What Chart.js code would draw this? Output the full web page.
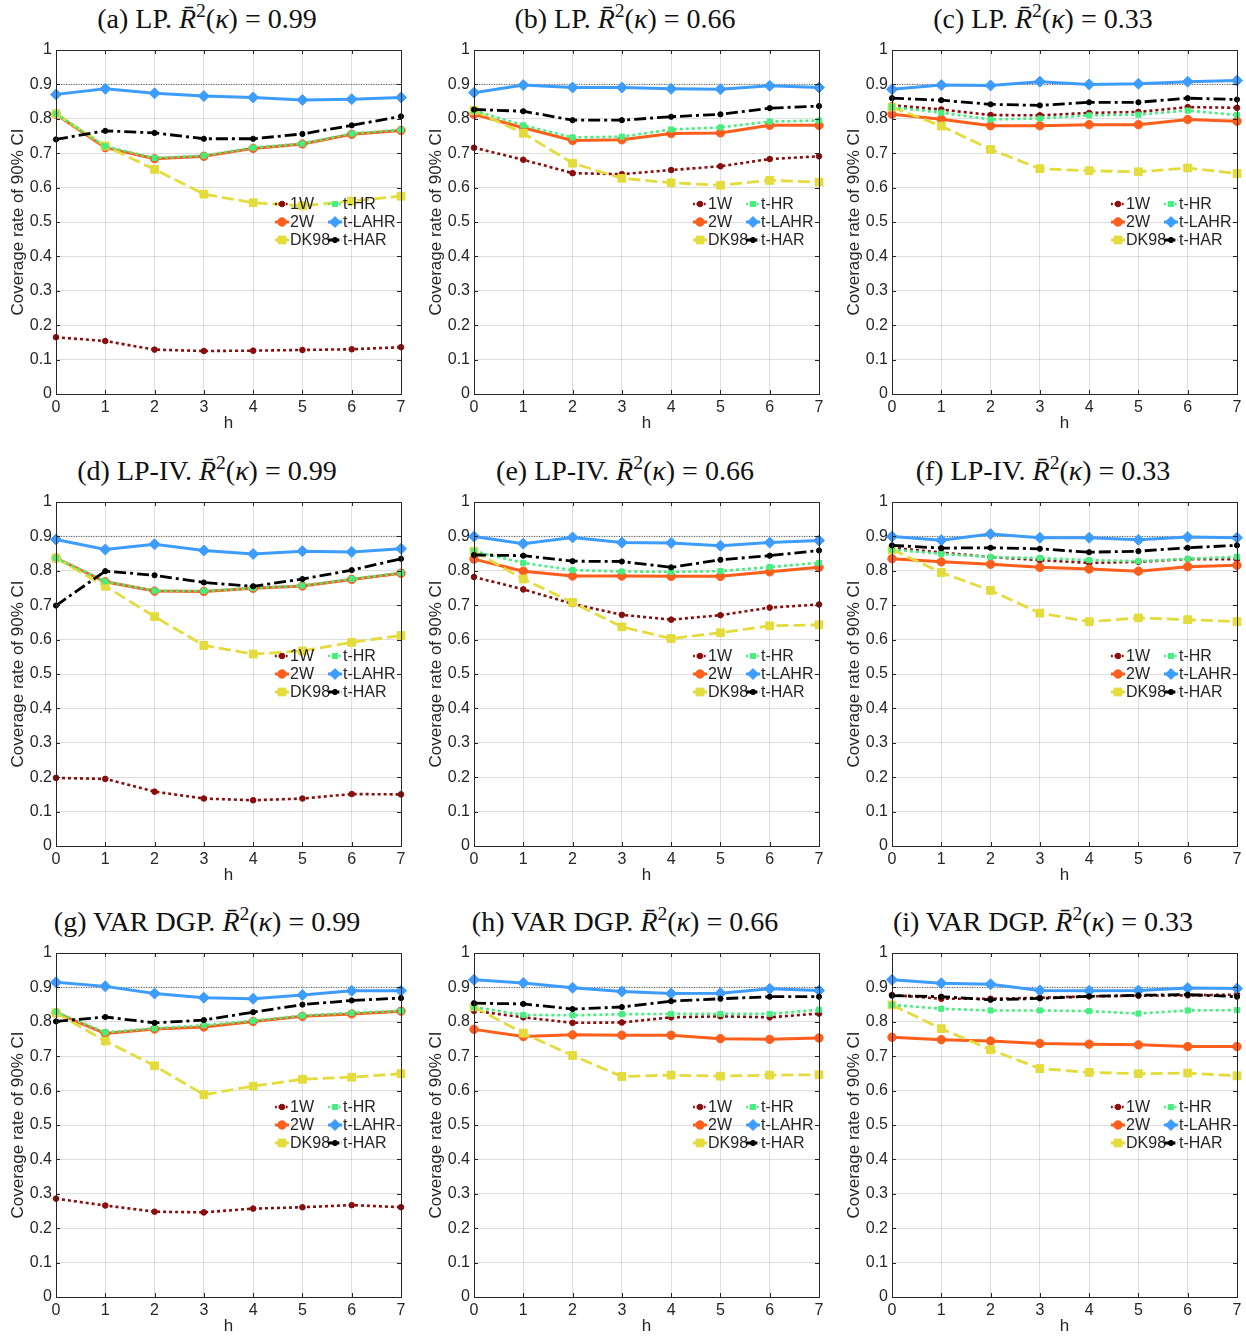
<!DOCTYPE html>
<html><head><meta charset="utf-8">
<script src="https://cdn.jsdelivr.net/npm/chart.js@4.4.1/dist/chart.umd.min.js"></script>
<style>
body{margin:0;background:#fff;}
#wrap{position:relative;width:1246px;height:1338px;overflow:hidden;background:#fff;}
.ttl{position:absolute;width:500px;text-align:center;font-family:"Liberation Serif","DejaVu Serif",serif;font-size:28px;line-height:30px;color:#111;white-space:nowrap;}
.ttl sup{font-size:0.7em;line-height:0;vertical-align:0.55em;}
canvas{position:absolute;}
</style></head><body><div id="wrap"></div>
<script>
// ---- categories and tick labels ----
const horizons = ['0','1','2','3','4','5','6','7'];
const yTickLabels = ['0','0.1','0.2','0.3','0.4','0.5','0.6','0.7','0.8','0.9','1'];
const seriesNames = ['1W','2W','DK98','t-HR','t-LAHR','t-HAR'];
const nominalLevel = [0.9,0.9,0.9,0.9,0.9,0.9,0.9,0.9];

// ---- (a) LP, 0.99 ----
const a_1W    = [0.165,0.154,0.129,0.125,0.126,0.128,0.130,0.136];
const a_2W    = [0.813,0.716,0.684,0.691,0.714,0.727,0.755,0.766];
const a_DK98  = [0.815,0.721,0.653,0.581,0.556,0.547,0.561,0.575];
const a_tHR   = [0.815,0.720,0.686,0.693,0.716,0.728,0.757,0.768];
const a_tLAHR = [0.871,0.887,0.874,0.866,0.862,0.855,0.857,0.862];
const a_tHAR  = [0.740,0.765,0.759,0.742,0.742,0.756,0.781,0.807];
// ---- (b) LP, 0.66 ----
const b_1W    = [0.716,0.681,0.642,0.639,0.651,0.662,0.683,0.691];
const b_2W    = [0.813,0.774,0.737,0.739,0.757,0.759,0.781,0.781];
const b_DK98  = [0.824,0.758,0.671,0.627,0.614,0.607,0.621,0.616];
const b_tHR   = [0.824,0.781,0.746,0.748,0.769,0.775,0.792,0.795];
const b_tLAHR = [0.876,0.898,0.891,0.891,0.887,0.886,0.896,0.891];
const b_tHAR  = [0.827,0.822,0.796,0.796,0.806,0.813,0.831,0.837];
// ---- (c) LP, 0.33 ----
const c_1W    = [0.839,0.827,0.811,0.810,0.817,0.820,0.834,0.832];
const c_2W    = [0.813,0.799,0.780,0.780,0.783,0.783,0.798,0.793];
const c_DK98  = [0.834,0.779,0.711,0.655,0.649,0.646,0.657,0.641];
const c_tHR   = [0.834,0.818,0.798,0.801,0.810,0.812,0.824,0.811];
const c_tLAHR = [0.886,0.898,0.897,0.908,0.900,0.902,0.908,0.911];
const c_tHAR  = [0.860,0.854,0.842,0.839,0.848,0.848,0.860,0.856];
// ---- (d) LP-IV, 0.99 ----
const d_1W    = [0.198,0.195,0.158,0.138,0.133,0.138,0.151,0.150];
const d_2W    = [0.837,0.768,0.741,0.740,0.749,0.756,0.775,0.793];
const d_DK98  = [0.837,0.755,0.667,0.583,0.558,0.567,0.592,0.612];
const d_tHR   = [0.837,0.769,0.742,0.741,0.750,0.757,0.776,0.794];
const d_tLAHR = [0.891,0.862,0.877,0.859,0.849,0.857,0.855,0.864];
const d_tHAR  = [0.699,0.799,0.787,0.766,0.755,0.776,0.802,0.835];
// ---- (e) LP-IV, 0.66 ----
const e_1W    = [0.782,0.746,0.704,0.672,0.658,0.671,0.693,0.702];
const e_2W    = [0.834,0.799,0.785,0.785,0.784,0.784,0.797,0.810];
const e_DK98  = [0.857,0.776,0.708,0.637,0.603,0.620,0.640,0.643];
const e_tHR   = [0.857,0.823,0.802,0.798,0.797,0.799,0.811,0.823];
const e_tLAHR = [0.900,0.879,0.897,0.882,0.881,0.873,0.882,0.888];
const e_tHAR  = [0.846,0.844,0.828,0.827,0.810,0.832,0.844,0.859];
// ---- (f) LP-IV, 0.33 ----
const f_1W    = [0.867,0.853,0.840,0.831,0.823,0.826,0.834,0.834];
const f_2W    = [0.835,0.826,0.819,0.810,0.805,0.799,0.812,0.816];
const f_DK98  = [0.862,0.795,0.743,0.677,0.652,0.663,0.658,0.652];
const f_tHR   = [0.862,0.849,0.840,0.837,0.831,0.828,0.835,0.841];
const f_tLAHR = [0.900,0.889,0.907,0.896,0.896,0.890,0.898,0.896];
const f_tHAR  = [0.874,0.866,0.867,0.864,0.854,0.857,0.867,0.874];
// ---- (g) VAR DGP, 0.99 ----
const g_1W    = [0.286,0.266,0.248,0.246,0.257,0.261,0.267,0.261];
const g_2W    = [0.826,0.766,0.779,0.785,0.801,0.816,0.823,0.831];
const g_DK98  = [0.826,0.744,0.672,0.588,0.613,0.633,0.639,0.649];
const g_tHR   = [0.829,0.769,0.781,0.790,0.803,0.818,0.826,0.832];
const g_tLAHR = [0.915,0.903,0.882,0.870,0.867,0.878,0.890,0.890];
const g_tHAR  = [0.801,0.814,0.797,0.805,0.828,0.850,0.862,0.869];
// ---- (h) VAR DGP, 0.66 ----
const h_1W    = [0.832,0.813,0.797,0.798,0.813,0.816,0.813,0.824];
const h_2W    = [0.778,0.757,0.762,0.761,0.761,0.751,0.749,0.753];
const h_DK98  = [0.843,0.767,0.702,0.641,0.645,0.642,0.645,0.646];
const h_tHR   = [0.843,0.820,0.819,0.822,0.823,0.823,0.823,0.835];
const h_tLAHR = [0.922,0.913,0.899,0.888,0.882,0.883,0.896,0.891];
const h_tHAR  = [0.854,0.852,0.837,0.843,0.860,0.867,0.873,0.873];
// ---- (i) VAR DGP, 0.33 ----
const i_1W    = [0.878,0.867,0.867,0.870,0.874,0.876,0.877,0.879];
const i_2W    = [0.755,0.748,0.744,0.737,0.735,0.733,0.728,0.728];
const i_DK98  = [0.849,0.780,0.719,0.664,0.653,0.649,0.651,0.643];
const i_tHR   = [0.849,0.838,0.833,0.833,0.831,0.824,0.833,0.834];
const i_tLAHR = [0.922,0.912,0.909,0.891,0.890,0.891,0.898,0.897];
const i_tHAR  = [0.876,0.873,0.864,0.868,0.874,0.877,0.879,0.873];

const panelLabels = ['(a) LP.','(b) LP.','(c) LP.','(d) LP-IV.','(e) LP-IV.','(f) LP-IV.','(g) VAR DGP.','(h) VAR DGP.','(i) VAR DGP.'];
const panelR2 = ['0.99','0.66','0.33','0.99','0.66','0.33','0.99','0.66','0.33'];
const panelData = [
  [a_1W,a_2W,a_DK98,a_tHR,a_tLAHR,a_tHAR],
  [b_1W,b_2W,b_DK98,b_tHR,b_tLAHR,b_tHAR],
  [c_1W,c_2W,c_DK98,c_tHR,c_tLAHR,c_tHAR],
  [d_1W,d_2W,d_DK98,d_tHR,d_tLAHR,d_tHAR],
  [e_1W,e_2W,e_DK98,e_tHR,e_tLAHR,e_tHAR],
  [f_1W,f_2W,f_DK98,f_tHR,f_tLAHR,f_tHAR],
  [g_1W,g_2W,g_DK98,g_tHR,g_tLAHR,g_tHAR],
  [h_1W,h_2W,h_DK98,h_tHR,h_tLAHR,h_tHAR],
  [i_1W,i_2W,i_DK98,i_tHR,i_tLAHR,i_tHAR]
];

// ---- styles ----
const styles = [
  {color:'#8a0c0c', width:2.6, dash:[3,3],        pointStyle:'circle',  r:2.8},
  {color:'#fd5e1c', width:3.0, dash:[],           pointStyle:'circle',  r:4.2},
  {color:'#e3dc3c', width:2.8, dash:[12,5],       pointStyle:'rect',    r:5.5},
  {color:'#45ef7e', width:2.6, dash:[3,3],        pointStyle:'rect',    r:3.6},
  {color:'#3d9cff', width:3.0, dash:[],           pointStyle:'rectRot', r:5.5},
  {color:'#000000', width:2.8, dash:[12,4,3,4],   pointStyle:'circle',  r:2.6}
];
const FONT = '"Liberation Sans", Arial, Helvetica, sans-serif';
const TXT = '#262626';
const colLeft = [56,474,892];
const rowTop = [50,502,953];
const PADTOP = 16;

const framePlugin = {
  id:'frame',
  afterDatasetsDraw(chart){
    const ctx = chart.ctx, ca = chart.chartArea, xs = chart.scales.x, ys = chart.scales.y;
    ctx.save();
    ctx.strokeStyle = TXT; ctx.lineWidth = 1; ctx.setLineDash([]);
    ctx.strokeRect(Math.round(ca.left)+0.5, Math.round(ca.top)+0.5, Math.round(ca.right-ca.left), Math.round(ca.bottom-ca.top));
    ctx.beginPath();
    ys.ticks.forEach(t=>{
      const y = Math.round(ys.getPixelForValue(t.value))+0.5;
      ctx.moveTo(ca.left, y); ctx.lineTo(ca.left+4, y);
      ctx.moveTo(ca.right-4, y); ctx.lineTo(ca.right, y);
    });
    horizons.forEach((h,i)=>{
      const x = Math.round(xs.getPixelForValue(i))+0.5;
      ctx.moveTo(x, ca.bottom); ctx.lineTo(x, ca.bottom-4);
      ctx.moveTo(x, ca.top); ctx.lineTo(x, ca.top+4);
    });
    ctx.stroke();
    // legend
    ctx.font = '16px ' + FONT;
    ctx.textBaseline = 'middle'; ctx.textAlign = 'left';
    const colX = [219, 272], rowY = [154, 172, 190];
    seriesNames.forEach((name,i)=>{
      const st = styles[i];
      const x0 = ca.left + colX[Math.floor(i/3)];
      const y = ca.top + rowY[i%3];
      ctx.strokeStyle = st.color; ctx.fillStyle = st.color;
      ctx.lineWidth = st.width; ctx.setLineDash(st.dash.length ? st.dash.map(v=>v*0.6) : []);
      ctx.beginPath(); ctx.moveTo(x0, y); ctx.lineTo(x0+14, y); ctx.stroke();
      ctx.setLineDash([]); ctx.lineWidth = 1;
      Chart.helpers.drawPoint(ctx, {pointStyle:st.pointStyle, radius:st.r, rotation:0, borderWidth:1}, x0+7, y);
      ctx.fillStyle = TXT;
      ctx.fillText(name, x0+15, y+1);
    });
    ctx.restore();
  }
};

const wrap = document.getElementById('wrap');
panelData.forEach((series, p)=>{
  const col = p % 3, row = Math.floor(p/3);
  const L = colLeft[col], T = rowTop[row];
  const t = document.createElement('div');
  t.className = 'ttl';
  t.style.left = (L - 99) + 'px';
  t.style.top = (T - 46) + 'px';
  t.innerHTML = panelLabels[p] + ' <i>R\u0304</i><sup>2</sup>(<i>\u03BA</i>) = ' + panelR2[p];
  wrap.appendChild(t);

  const cv = document.createElement('canvas');
  const H = PADTOP + 344 + 40;
  cv.width = 411; cv.height = H;
  cv.style.left = (L - 56) + 'px'; cv.style.top = (T - PADTOP) + 'px';
  cv.style.width = '411px'; cv.style.height = H + 'px';
  wrap.appendChild(cv);

  const datasets = series.map((vals,i)=>({
    label: seriesNames[i],
    data: vals,
    borderColor: styles[i].color,
    backgroundColor: styles[i].color,
    borderWidth: styles[i].width,
    borderDash: styles[i].dash,
    borderCapStyle: 'butt',
    pointStyle: styles[i].pointStyle,
    pointRadius: styles[i].r,
    pointBorderWidth: 1,
    pointBackgroundColor: styles[i].color,
    pointBorderColor: styles[i].color,
    tension: 0,
    fill: false,
    clip: false,
    order: 6 - i
  }));
  datasets.push({
    label:'nominal', data: nominalLevel, borderColor:'#333', borderWidth:0.8,
    borderDash:[1,1.5], pointRadius:0, fill:false, order: 10
  });

  new Chart(cv, {
    type:'line',
    data:{ labels: horizons, datasets },
    options:{
      responsive:false, animation:false, devicePixelRatio:1,
      layout:{ padding:{ top:PADTOP, right:10, left:0, bottom:0 } },
      plugins:{ legend:{display:false}, tooltip:{enabled:false}, title:{display:false} },
      scales:{
        x:{
          type:'category', offset:false,
          grid:{ color:'rgba(0,0,0,0.13)', drawTicks:false },
          border:{ display:false },
          ticks:{ padding:4, color:TXT, font:{ family:FONT, size:16 }, maxRotation:0, autoSkip:false },
          title:{ display:true, text:'h', color:TXT, font:{ family:FONT, size:17 }, padding:{top:0,bottom:0} },
          afterFit(s){ s.height = 40; }
        },
        y:{
          min:0, max:1,
          grid:{ color:'rgba(0,0,0,0.13)', drawTicks:false },
          border:{ display:false },
          ticks:{ stepSize:0.1, padding:4, color:TXT, font:{ family:FONT, size:16 },
                  callback:(v,i)=>yTickLabels[i] },
          title:{ display:true, text:'Coverage rate of 90% CI', color:TXT, font:{ family:FONT, size:17 }, padding:{top:8,bottom:0} },
          afterFit(s){ s.width = 56; }
        }
      }
    },
    plugins:[framePlugin]
  });
});
</script>
</body></html>
